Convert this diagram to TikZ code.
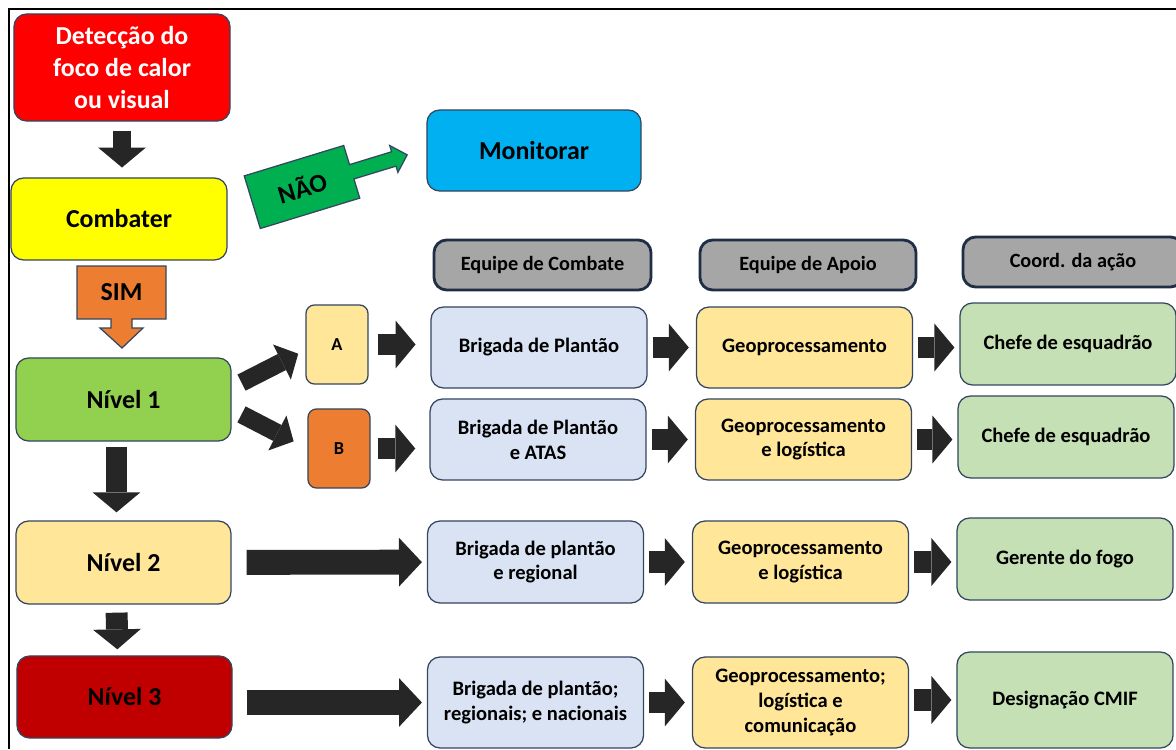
\documentclass[tikz,border=0pt]{standalone}
\usepackage{fontspec}
\setmainfont{Carlito}
\usetikzlibrary{arrows.meta}
\definecolor{edge}{HTML}{344660}
\definecolor{hedge}{HTML}{1F2D45}
\definecolor{shaft}{HTML}{262626}
\definecolor{redbox}{HTML}{FF0000}
\definecolor{yelbox}{HTML}{FFFF00}
\definecolor{cyanbox}{HTML}{00B0F0}
\definecolor{greenbox}{HTML}{92D050}
\definecolor{sandbox}{HTML}{FFE699}
\definecolor{darkredbox}{HTML}{C00000}
\definecolor{orangebox}{HTML}{ED7D31}
\definecolor{greybox}{HTML}{A6A6A6}
\definecolor{bluebox}{HTML}{DAE3F3}
\definecolor{sagebox}{HTML}{C5E0B4}
\definecolor{naogreen}{HTML}{00B050}
\newcommand{\bigfont}{\fontsize{18.4}{22.7}\selectfont\bfseries}
\newcommand{\midfont}{\fontsize{14.6}{17.7}\selectfont\bfseries}

\begin{document}
\begin{tikzpicture}[x=0.025cm, y=-0.025cm,
  box/.style={draw=edge, line width=0.9pt, rounded corners=9pt, inner sep=0pt, align=center,
    minimum width=5.4cm, minimum height=2.05cm, font=\midfont},
  level/.style={box, font=\bigfont},
  head/.style={box, draw=hedge, line width=2pt, fill=greybox, minimum height=1.25cm,
    font=\fontsize{14.4}{17.7}\selectfont\bfseries},
  letter/.style={box, rounded corners=6pt, minimum width=1.55cm, minimum height=1.975cm,
    font=\fontsize{13}{15}\selectfont\bfseries},
  flow/.style={draw=shaft, line width=15.6pt, shorten <=4pt, shorten >=4pt,
    -{Triangle[length=14.2pt, width=34pt, line width=0pt]}},
  wide/.style={flow, line width=17.7pt, -{Triangle[length=16.3pt, width=34.7pt, line width=0pt]}},
  slant/.style={flow, line width=12.8pt, -{Triangle[length=13pt, width=28pt, line width=0pt]}}]
  \useasboundingbox (0,0) rectangle (1176,749);
  \draw[line width=2pt] (9,749) -- (9,9) -- (1176,9);

  \node[level, fill=redbox, text=white, minimum height=2.675cm] (detec) at (122,67.5) {Detecção do\\foco de calor\\ou visual};
  \node[level, fill=yelbox] (comb) at (119,219) {Combater};
  \node[level, fill=cyanbox, minimum width=5.35cm, minimum height=2.025cm] (monit) at (534,150.5) {Monitorar};
  \node[level, fill=greenbox, minimum width=5.375cm, minimum height=2.075cm] (niv1) at (123.5,399.5) {Nível 1};
  \node[level, fill=sandbox, minimum width=5.375cm, minimum height=2.075cm] (niv2) at (123.5,562.5) {Nível 2};
  \node[level, fill=darkredbox, minimum width=5.375cm] (niv3) at (124.5,697) {Nível 3};

  \node[letter, fill=sandbox] (a) at (337,344.5) {A};
  \node[letter, fill=orangebox] (b) at (339,448.5) {B};

  \node[head, minimum width=5.425cm] (hcomb) at (542.5,265) {Equipe de Combate};
  \node[head] (hapoio) at (808,265) {Equipe de Apoio};
  \node[head, minimum width=5.5cm] (hcoord) at (1073,262) {Coord. da ação};

  \node[box, fill=bluebox, minimum height=2.025cm] (brig1) at (539,347.5) {Brigada de Plantão};
  \node[box, fill=sandbox, minimum height=2.025cm] (geo1) at (804.5,347.5) {Geoprocessamento};
  \node[box, fill=sagebox] (chef1) at (1068,344) {Chefe de esquadrão};

  \node[box, fill=bluebox, minimum height=2.025cm] (brig2) at (538,439.5) {Brigada de Plantão\\e ATAS};
  \node[box, fill=sandbox, minimum height=2.025cm] (geo2) at (803.5,439.5) {Geoprocessamento\\e logística};
  \node[box, fill=sagebox] (chef2) at (1066,437) {Chefe de esquadrão};

  \node[box, fill=bluebox] (brig3) at (535.5,562) {Brigada de plantão\\e regional};
  \node[box, fill=sandbox] (geo3) at (800.5,562) {Geoprocessamento\\e logística};
  \node[box, fill=sagebox] (gerente) at (1065,559) {Gerente do fogo};

  \node[box, fill=bluebox, minimum height=2.275cm] (brig4) at (535.5,702.5) {Brigada de plantão;\\regionais; e nacionais};
  \node[box, fill=sandbox, minimum height=2.275cm] (geo4) at (800.5,702.5) {Geoprocessamento;\\logística e\\comunicação};
  \node[box, fill=sagebox, minimum height=2.4cm] (desig) at (1065,700) {Designação CMIF};

  \draw[draw=edge, line width=0.9pt, fill=orangebox] (77,266) -- (166,266) -- (166,319) -- (132,319) -- (132,328)
    -- (143,328) -- (122,348) -- (100,328) -- (111,328) -- (111,319) -- (77,319) -- cycle;
  \node[font=\bigfont] (sim) at (121.5,292.5) {SIM};

  \begin{scope}[shift={(302,187)}, rotate=17]
    \draw[draw=edge, line width=0.9pt, fill=naogreen] (-52,-27.5) -- (52,-27.5) -- (52,-7.5) -- (96,-7.5) -- (96,-14)
      -- (110,0) -- (96,14) -- (96,7.5) -- (52,7.5) -- (52,27.5) -- (-52,27.5) -- cycle;
    \node[font=\bigfont, rotate=17] (nao) at (0,0) {NÃO};
  \end{scope}

  \draw[flow, line width=12.8pt, shorten <=6.4pt, shorten >=7pt] (detec.south) -- (detec.south |- comb.north);
  \draw[flow, shorten <=3.5pt, shorten >=5.7pt] ([xshift=-5pt]niv1.south) -- ([xshift=-5pt]niv2.north);
  \draw[flow, shorten <=5.7pt, shorten >=4.3pt] ([xshift=-5pt]niv2.south) -- ([xshift=-5pt]niv3.north);

  \draw[slant, shorten <=0pt, shorten >=5.7pt] ([xshift=7pt,yshift=12pt]niv1.east) -- (a.190);
  \draw[slant, shorten <=0pt, shorten >=11pt] ([xshift=7pt,yshift=-10.6pt]niv1.east) -- (b.west);

  \draw[flow, shorten <=7pt, shorten >=10.5pt] (a.east) -- (a.east -| brig1.west);
  \draw[flow, shorten <=5.5pt, shorten >=10pt] (b.east) -- (b.east -| brig2.west);
  \draw[wide, shorten <=10.6pt, shorten >=3.5pt] (niv2) -- (brig3);
  \draw[wide, shorten <=10pt, shorten >=3.5pt] (niv3.east |- brig4) -- (brig4);

  \draw[flow, shorten <=3.5pt, shorten >=5pt] (brig1) -- (geo1);
  \draw[flow, shorten <=3.5pt, shorten >=5pt] (brig2) -- (geo2);
  \draw[flow, shorten <=3.5pt, shorten >=5pt] (brig3) -- (geo3);
  \draw[flow, shorten <=3.5pt, shorten >=5pt] (brig4) -- (geo4);

  \draw[flow, shorten <=3.5pt, shorten >=3.5pt] (geo1.east) -- (geo1.east -| chef1.west);
  \draw[flow, shorten <=3.5pt, shorten >=3.5pt] (geo2.east) -- (geo2.east -| chef2.west);
  \draw[flow, shorten <=3.5pt, shorten >=3.5pt] (geo3.east) -- (geo3.east -| gerente.west);
  \draw[flow, shorten <=3.5pt, shorten >=3.5pt] (geo4.east |- desig) -- (desig);
\end{tikzpicture}
\end{document}
